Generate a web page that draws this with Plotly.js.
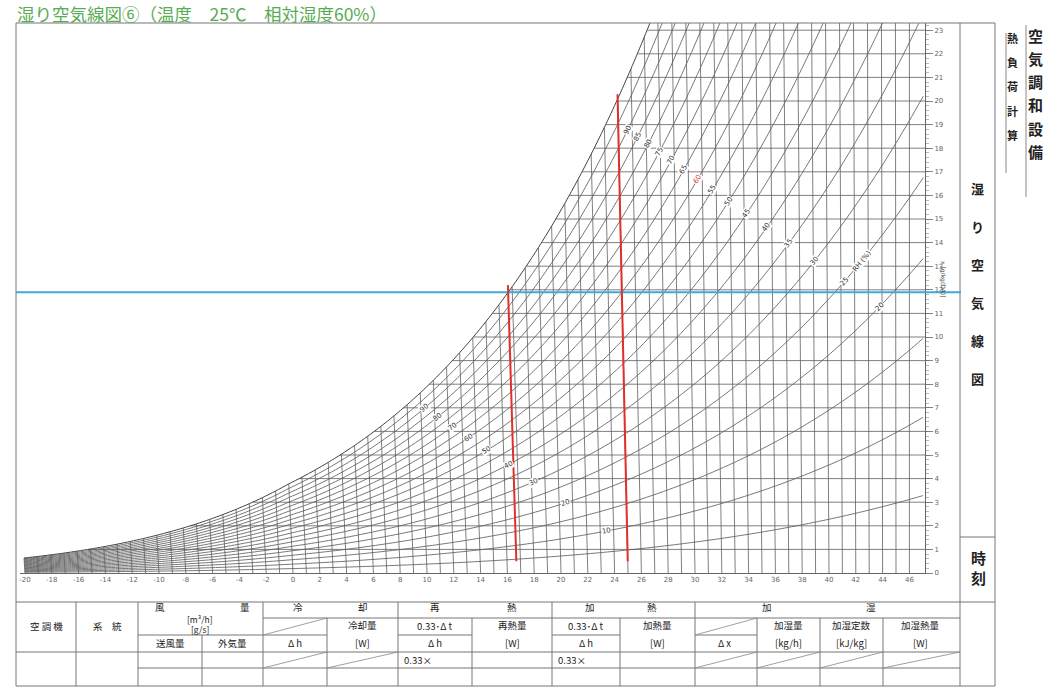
<!DOCTYPE html>
<html><head><meta charset="utf-8">
<script src="https://cdn.plot.ly/plotly-3.0.1.min.js"></script>
<style>html,body{margin:0;padding:0;background:#fff;}#chart{width:1049px;height:688px;}</style>
</head><body><div id="chart"></div>
<script>
// ---------------- data ----------------
const titleText = '湿り空気線図⑥（温度　25℃　相対湿度60%）';
// saturation vapour pressure table [kPa] (ice below 0 °C, water above)
const tableTemps = [-20,-19,-18,-17,-16,-15,-14,-13,-12,-11,-10,-9,-8,-7,-6,-5,-4,-3,-2,-1,0,1,2,3,4,5,6,7,8,9,10,11,12,13,14,15,16,17,18,19,20,21,22,23,24,25,26,27,28,29,30,31,32,33,34,35,36,37,38,39,40,41,42,43,44,45,46,47];
const satPressure = [0.1035,0.1136,0.1252,0.1373,0.1507,0.1653,0.1812,0.1985,0.2173,0.2377,0.2599,0.2839,0.3100,0.3382,0.3687,0.4017,0.4374,0.4760,0.5176,0.5626,0.6112,0.6571,0.7060,0.7581,0.8135,0.8726,0.9354,1.0021,1.0730,1.1482,1.2282,1.3129,1.4028,1.4981,1.5989,1.7057,1.8188,1.9383,2.0647,2.1982,2.3392,2.4881,2.6452,2.8109,2.9856,3.1697,3.3637,3.5679,3.7828,4.0089,4.2467,4.4966,4.7592,5.0351,5.3247,5.6286,5.9475,6.2818,6.6324,6.9997,7.3844,7.7873,8.2090,8.6503,9.1118,9.5944,10.0988,10.6259];
const rhLevels = [5,10,15,20,25,30,35,40,45,50,55,60,65,70,75,80,85,90,95,100];
const upperLabelRH = [90,85,80,75,70,65,60,55,50,45,40,35,30,25,20];
const lowerLabelRH = [90,80,70,60,50,40,30,20,10];
const gridTemps = [-20,-19,-18,-17,-16,-15,-14,-13,-12,-11,-10,-9,-8,-7,-6,-5,-4,-3,-2,-1,0,1,2,3,4,5,6,7,8,9,10,11,12,13,14,15,16,17,18,19,20,21,22,23,24,25,26,27,28,29,30,31,32,33,34,35,36,37,38,39,40,41,42,43,44,45,46];
const gridHumidity = [1,2,3,4,5,6,7,8,9,10,11,12,13,14,15,16,17,18,19,20,21,22,23];
const dryBulbTicks = [-20,-18,-16,-14,-12,-10,-8,-6,-4,-2,0,2,4,6,8,10,12,14,16,18,20,22,24,26,28,30,32,34,36,38,40,42,44,46];
const humidityTicks = [0,1,2,3,4,5,6,7,8,9,10,11,12,13,14,15,16,17,18,19,20,21,22,23];
const stateDryBulb = 25;
const stateRH = 60;
const highlightRH = 60;

// ---------------- helpers ----------------
const P = 101.325, K = 0.001835, T_REF = 46;
const X_MIN = -20.373, X_MAX = 47.164, Y_MAX = 23.305;
const PL = 20, PR = 925, PT = 23, PB = 573;
const SX = (PR - PL) / (X_MAX - X_MIN), SY = (PB - PT) / Y_MAX;
function ps(t){
  let i = Math.floor(t - tableTemps[0]);
  i = Math.min(Math.max(i, 0), tableTemps.length - 2);
  const f = t - tableTemps[i];
  return satPressure[i] + (satPressure[i+1] - satPressure[i]) * f;
}
function wOf(t, phi){ const p = phi * ps(t); return 622 * p / (P - p); }
function Xof(t, w){ return t + (t - T_REF) * K * w; }
function tFromXw(X, w){ return (X + T_REF * K * w) / (1 + K * w); }
function rhAt(X, w){ const t = tFromXw(X, w); const pw = w * P / (622 + w); return pw / ps(t); }
function dewT(w){ let a = -25, b = 50; for (let i = 0; i < 60; i++){ const m = (a+b)/2; if (wOf(m,1) < w) a = m; else b = m; } return (a+b)/2; }
function tForW(phi, w){ let a = -25, b = 60; for (let i = 0; i < 60; i++){ const m = (a+b)/2; if (wOf(m,phi) < w) a = m; else b = m; } return (a+b)/2; }
const fx = px => (px - PL) / (PR - PL);
const fy = py => (PB - py) / (PB - PT);
const toX = px => X_MIN + (px - PL) / SX;
const toW = py => (PB - py) / SY;

const gridColor = '#5f5f5f';
const traces = [];

// dry-bulb lines
{ const xs = [], ys = [];
  gridTemps.forEach(t => { const wt = Math.min(wOf(t,1), Y_MAX + 0.5);
    xs.push(Xof(t,0), Xof(t,wt), null); ys.push(0, wt, null); });
  traces.push({x: xs, y: ys, mode: 'lines', line: {color: gridColor, width: 0.8}, hoverinfo: 'skip'}); }
// humidity lines
{ const xs = [], ys = [];
  gridHumidity.forEach(w => { const td = dewT(w); xs.push(Xof(td,w), X_MAX + 1, null); ys.push(w, w, null); });
  traces.push({x: xs, y: ys, mode: 'lines', line: {color: gridColor, width: 0.8}, hoverinfo: 'skip'}); }
// RH curves
rhLevels.forEach(rh => {
  const phi = rh / 100;
  traces.push({
    x: tableTemps.map(t => Xof(t, wOf(t, phi))),
    y: tableTemps.map(t => wOf(t, phi)),
    mode: 'lines', line: {color: rh === 100 ? '#444' : gridColor, width: rh === 100 ? 1 : 0.85, shape: 'spline', smoothing: 0.8},
    hoverinfo: 'skip'
  });
});

// ---------------- annotations ----------------
const ann = [];
function T(text, x, y, size, o){
  o = o || {};
  ann.push(Object.assign({text: text, xref: 'paper', yref: 'paper', x: fx(x), y: fy(y), showarrow: false,
    xanchor: 'center', yanchor: 'middle', font: {family: 'Noto Sans CJK JP', size: size, color: '#222'}}, o));
}
function curveAngle(t, phi){
  const t1 = t - 0.4, t2 = t + 0.4;
  const w1 = wOf(t1,phi), w2 = wOf(t2,phi);
  const dx = (Xof(t2,w2) - Xof(t1,w1)) * SX, dy = (w2 - w1) * SY;
  return -Math.atan2(dy, dx) * 180 / Math.PI;
}
function labelSeries(g, list, colorFn){
  const gp = s => [g[0][0] + (g[1][0]-g[0][0]) * s, g[0][1] + (g[1][1]-g[0][1]) * s];
  list.forEach(rh => {
    const phi = rh / 100; let a = -1, b = 2;
    for (let i = 0; i < 60; i++){ const m = (a+b)/2; const p = gp(m); if (rhAt(p[0],p[1]) > phi) a = m; else b = m; }
    const p = gp((a+b)/2); const t = tFromXw(p[0], p[1]);
    ann.push({text: String(rh), x: p[0], y: p[1], xref: 'x', yref: 'y', showarrow: false, textangle: curveAngle(t, phi),
      font: {family: 'DejaVu Sans', size: 7, color: colorFn(rh)}, bgcolor: '#fff', borderpad: 0});
    if (rh === 25){
      const w2 = p[1] + 0.9, t2 = tForW(phi, w2);
      ann.push({text: 'RH (%)', x: Xof(t2, w2), y: w2, xref: 'x', yref: 'y', showarrow: false, textangle: curveAngle(t2, phi),
        font: {family: 'DejaVu Sans', size: 7, color: '#333'}, bgcolor: '#fff', borderpad: 0});
    }
  });
}
labelSeries([[toX(618), toW(123)], [toX(880), toW(307)]], upperLabelRH, rh => rh === highlightRH ? '#e0302c' : '#333');
labelSeries([[toX(423), toW(407)], [toX(605), toW(530)]], lowerLabelRH, rh => '#333');

// title
ann.push({text: titleText, xref: 'paper', yref: 'paper', x: fx(16), y: fy(0), xanchor: 'left', yanchor: 'top', showarrow: false,
  borderpad: 0, font: {family: 'Noto Sans CJK JP', size: 17.5, color: '#5aab55'}});
// y-axis title
T('x [g/kg(DA)]', 943, 280, 6, {textangle: 90, font: {family: 'DejaVu Sans', size: 6, color: '#444'}});

// right panel vertical texts
['湿','り','空','気','線','図'].forEach((c,i) => T('<b>'+c+'</b>', 978, 188 + i*38, 13));
['時','刻'].forEach((c,i) => T('<b>'+c+'</b>', 979, 557 + i*20, 15));
['空','気','調','和','設','備'].forEach((c,i) => T('<b>'+c+'</b>', 1035, 35 + i*23.3, 15));
['熱','負','荷','計','算'].forEach((c,i) => T('<b>'+c+'</b>', 1013, 38 + i*24.2, 11));

// table text
const ts = 9.5;
T('空 調 機', 46, 626, ts); T('系　統', 107, 626, ts);
T('風', 160, 607, ts); T('量', 245, 607, ts);
T('[m³/h]', 200, 619, 8.5); T('[g/s]', 200, 629, 8.5);
T('送風量', 170, 643, ts); T('外気量', 232, 643, ts);
T('冷', 298, 607, ts); T('却', 363, 607, ts);
T('Δ h', 295, 643, ts); T('冷却量', 362, 625, ts); T('[W]', 362, 643, ts);
T('再', 435, 607, ts); T('熱', 512, 607, ts);
T('0.33･Δ t', 435, 626, ts); T('Δ h', 435, 643, ts);
T('再熱量', 512, 625, ts); T('[W]', 512, 643, ts);
T('0.33×', 402, 660, ts, {xanchor: 'left'});
T('加', 590, 607, ts); T('熱', 652, 607, ts);
T('0.33･Δ t', 586, 626, ts); T('Δ h', 586, 643, ts);
T('加熱量', 657, 625, ts); T('[W]', 657, 643, ts);
T('0.33×', 556, 660, ts, {xanchor: 'left'});
T('加', 767, 607, ts); T('湿', 871, 607, ts);
T('Δ x', 724, 643, ts);
T('加湿量', 788, 625, ts); T('[kg/h]', 788, 643, ts);
T('加湿定数', 851, 625, ts); T('[kJ/kg]', 851, 643, ts);
T('加湿熱量', 920, 625, ts); T('[W]', 920, 643, ts);

// ---------------- shapes ----------------
const shapes = [];
function L(x0,y0,x1,y1,c,w){ shapes.push({type: 'line', xref: 'paper', yref: 'paper', x0: fx(x0), y0: fy(y0), x1: fx(x1), y1: fy(y1), line: {color: c || '#777', width: w || 1}}); }
// frame
L(16,23,995,23); L(16,23,16,686); L(960,23,960,686); L(995,23,995,686);
L(16,602,995,602); L(16,686,995,686); L(960,537,995,537);
L(1006,33,1006,173,'#888',1); L(1026,25,1026,197,'#888',1);
// table
[[76,602],[138,602],[202,635],[263,602],[327,618],[398,602],[472,618],[552,602],[620,618],[695,602],[757,618],[820,618],[883,618]]
  .forEach(v => L(v[0], v[1], v[0], 686));
L(263,618,960,618);
L(138,635,327,635); L(398,635,472,635); L(552,635,620,635); L(695,635,757,635);
L(16,652,960,652); L(138,668,960,668);
[[263,635,327,618],[263,668,327,652],[327,668,398,652],[695,635,757,618],[695,668,757,652],[757,668,820,652],[820,668,883,652],[883,668,960,652]]
  .forEach(d => L(d[0],d[1],d[2],d[3],'#888',0.8));

// state point lines
const wState = wOf(stateDryBulb, stateRH/100);
const tDew = dewT(wState);
shapes.push({type: 'line', xref: 'paper', yref: 'y', x0: fx(16), x1: fx(961), y0: wState, y1: wState, line: {color: '#3fa9d9', width: 2}});
const wTop25 = wOf(stateDryBulb,1) + 0.2;
shapes.push({type: 'line', xref: 'x', yref: 'y', x0: Xof(stateDryBulb,0.5), y0: 0.5, x1: Xof(stateDryBulb,wTop25), y1: wTop25, line: {color: '#e0302c', width: 2}});
shapes.push({type: 'line', xref: 'x', yref: 'y', x0: Xof(tDew,0.5), y0: 0.5, x1: Xof(tDew,wState+0.3), y1: wState+0.3, line: {color: '#e0302c', width: 2}});

const layout = {
  width: 1049, height: 688, autosize: false,
  margin: {l: PL, r: 1049 - PR, t: PT, b: 688 - PB, pad: 0},
  paper_bgcolor: '#fff', plot_bgcolor: '#fff', showlegend: false, hovermode: false,
  xaxis: {range: [X_MIN, X_MAX], tickmode: 'array', tickvals: dryBulbTicks, ticktext: dryBulbTicks.map(String),
    ticks: '', showgrid: false, zeroline: false, showline: true, linecolor: '#666', linewidth: 1,
    tickfont: {family: 'DejaVu Sans', size: 7, color: '#666'}, fixedrange: true},
  yaxis: {range: [0, Y_MAX], side: 'right', tickmode: 'array', tickvals: humidityTicks, ticktext: humidityTicks.map(String),
    ticks: 'outside', ticklen: 7, tickwidth: 0.8, tickcolor: '#666',
    minor: {tickmode: 'linear', tick0: 0, dtick: 0.2, ticks: 'outside', ticklen: 3, tickcolor: '#888', tickwidth: 0.6, showgrid: false},
    showgrid: false, zeroline: false, showline: true, linecolor: '#666', linewidth: 1,
    tickfont: {family: 'DejaVu Sans', size: 7, color: '#666'}, fixedrange: true},
  shapes: shapes, annotations: ann
};
Plotly.newPlot('chart', traces, layout, {staticPlot: true, displayModeBar: false});
</script></body></html>
